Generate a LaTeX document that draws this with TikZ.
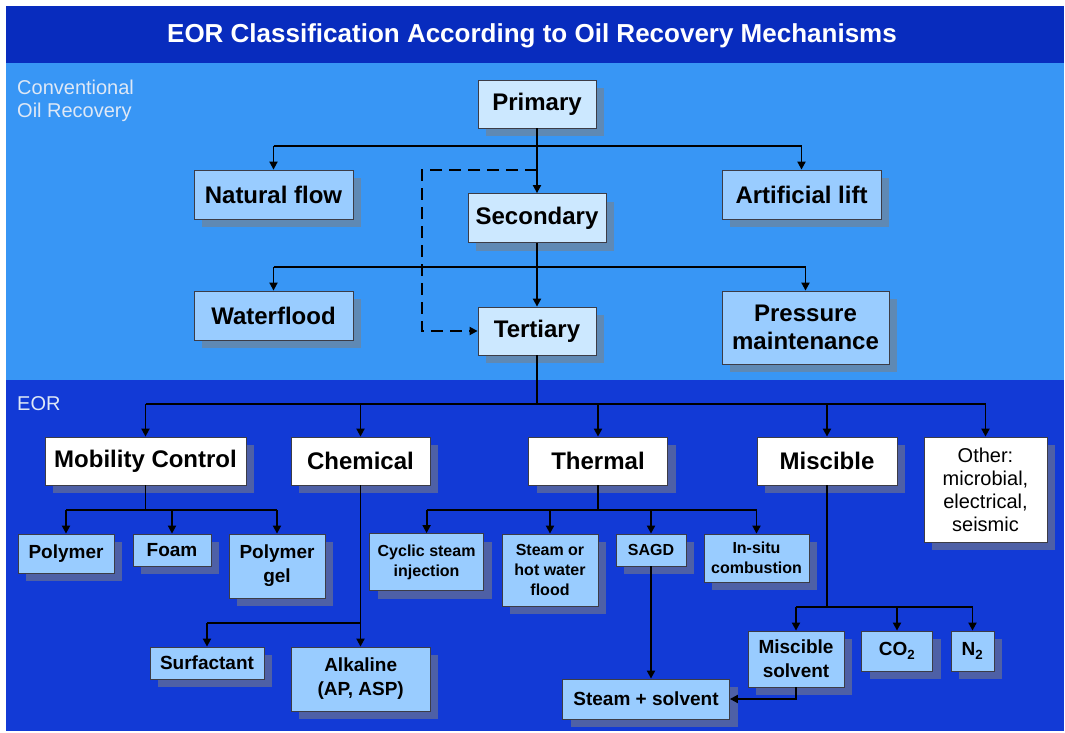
\documentclass[tikz,border=0pt]{standalone}
\usepackage{fontspec}
\setmainfont{Liberation Sans}
\usetikzlibrary{arrows.meta,shadows}
\definecolor{titlebar}{RGB}{8,44,190}
\definecolor{convbg}{RGB}{56,150,245}
\definecolor{eorbg}{RGB}{18,58,214}
\definecolor{palest}{RGB}{204,232,255}
\definecolor{pale}{RGB}{153,204,255}
\definecolor{boxline}{RGB}{60,60,70}
\definecolor{lbl}{RGB}{222,232,246}
\begin{document}
\begin{tikzpicture}[x=1pt,y=-1pt,
	box/.style={draw=boxline,line width=.8pt,inner sep=1pt,align=center,text=black,
		drop shadow={shadow xshift=8pt,shadow yshift=-8pt,fill=gray,opacity=.55}},
	big/.style={font=\bfseries\fontsize{24}{28}\selectfont},
	topbox/.style={box,big,fill=palest},
	convbox/.style={box,big,fill=pale},
	catbox/.style={box,big,fill=white},
	subbox/.style={box,fill=pale,font=\bfseries\fontsize{19}{24}\selectfont},
	thbox/.style={box,fill=pale,font=\bfseries\fontsize{16}{20}\selectfont},
	wh/.style 2 args={minimum width=#1pt,minimum height=#2pt},
	line/.style={line width=1.8pt},
	arr/.style={line,-{Triangle[length=8pt,width=8pt]}}]
	\useasboundingbox (0,0) rectangle (1065,733);
	% background bands
	\fill[white] (0,0) rectangle (1065,733);
	\fill[titlebar] (6,6) rectangle (1064,63);
	\fill[convbg] (6,63) rectangle (1064,380);
	\fill[eorbg] (6,380) rectangle (1064,731);
	\node[text=white,font=\bfseries\fontsize{26}{30}\selectfont] (title) at (532,36)
		{EOR Classification According to Oil Recovery Mechanisms};
	\node[anchor=north west,inner sep=0,align=left,text=lbl,font=\fontsize{20}{23}\selectfont]
		(convlbl) at (17,80) {Conventional\\Oil Recovery};
	\node[anchor=north west,inner sep=0,text=lbl,font=\fontsize{20}{23}\selectfont]
		(eorlbl) at (17,396) {EOR};
	% bus levels
	\path
	(0,146) coordinate (bus1)
	(0,267) coordinate (bus2)
	(422,170) coordinate (dsh)
	(0,404) coordinate (bus3)
	(0,510) coordinate (bus4)
	(0,623) coordinate (bus5)
	(0,607) coordinate (bus6);
	% conventional recovery
	\node[topbox,wh={118}{48}] (prim) at (537,104) {Primary};
	\node[topbox,wh={138}{49}] (sec) at (537,218) {Secondary};
	\node[topbox,wh={118}{48}] (tert) at (537,331) {Tertiary};
	\node[convbox,wh={159}{49}] (nat) at (273.5,194.5) {Natural flow};
	\node[convbox,wh={159}{49}] (art) at (801.5,194.5) {Artificial lift};
	\node[convbox,wh={159}{49}] (wat) at (273.5,315.5) {Waterflood};
	\node[convbox,wh={167}{73}] (press) at (805.5,327.5) {Pressure\\maintenance};
	% EOR categories
	\node[catbox,wh={201}{48}] (mob) at (145.5,461) {Mobility Control};
	\node[catbox,wh={139}{48}] (chem) at (360.5,461) {Chemical};
	\node[catbox,wh={139}{48}] (therm) at (598,461) {Thermal};
	\node[catbox,wh={140}{48}] (misc) at (827,461) {Miscible};
	\node[box,fill=white,wh={123}{105},font=\fontsize{20}{23}\selectfont] (oth) at (985.5,489.5)
		{Other:\\microbial,\\electrical,\\seismic};
	% EOR methods
	\node[subbox,wh={96}{39}] (poly) at (66,553.5) {Polymer};
	\node[subbox,wh={78}{32}] (foam) at (172,550) {Foam};
	\node[subbox,wh={96}{64}] (pgel) at (277,566) {Polymer\\gel};
	\node[subbox,wh={114}{32}] (surf) at (207,663) {Surfactant};
	\node[subbox,wh={139}{64}] (alk) at (360.7,679) {Alkaline\\(AP, ASP)};
	\node[thbox,wh={114}{57}] (cyc) at (426.6,562) {Cyclic steam\\injection};
	\node[thbox,wh={96}{72}] (shw) at (550,570) {Steam or\\hot water\\flood};
	\node[thbox,wh={70}{32}] (sagd) at (651,550) {SAGD};
	\node[thbox,wh={105}{48}] (insitu) at (756.5,558) {In-situ\\combustion};
	\node[subbox,wh={167}{40}] (stsol) at (646,699) {Steam + solvent};
	\node[subbox,wh={96}{56}] (msol) at (796,659) {Miscible\\solvent};
	\node[subbox,wh={71}{40}] (co2) at (897,651) {CO\textsubscript{2}};
	\node[subbox,wh={43}{40}] (n2) at (972.5,651) {N\textsubscript{2}};
	% connectors, conventional part
	\draw[arr] (prim) -- (sec);
	\draw[line] (nat.north |- bus1) -- (art.north |- bus1);
	\foreach \n in {nat,art}
	\draw[arr] (\n.north |- bus1) -- (\n.north);
	\draw[arr] (sec) -- (tert);
	\draw[line] (wat.north |- bus2) -- (press.north |- bus2);
	\foreach \n in {wat,press}
	\draw[arr] (\n.north |- bus2) -- (\n.north);
	\draw[arr,dash pattern=on 12pt off 7pt] (prim.south |- dsh) -- (dsh) |- (tert.west);
	% connectors, EOR part
	\draw[line] (tert) -- (tert |- bus3);
	\draw[line] (mob.north |- bus3) -- (oth.north |- bus3);
	\foreach \n in {mob,chem,therm,misc,oth}
	\draw[arr] (\n.north |- bus3) -- (\n.north);
	\draw[line] (mob) -- (mob |- bus4);
	\draw[line] (poly.north |- bus4) -- (pgel.north |- bus4);
	\foreach \n in {poly,foam,pgel}
	\draw[arr] (\n.north |- bus4) -- (\n.north);
	\draw[arr] (chem) -- (chem |- alk.north);
	\draw[line] (surf.north |- bus5) -- (chem |- bus5);
	\draw[arr] (surf.north |- bus5) -- (surf.north);
	\draw[line] (therm) -- (therm |- bus4);
	\draw[line] (cyc.north |- bus4) -- (insitu.north |- bus4);
	\foreach \n in {cyc,shw,sagd,insitu}
	\draw[arr] (\n.north |- bus4) -- (\n.north);
	\draw[arr] (sagd) -- (sagd |- stsol.north);
	\draw[line] (misc) -- (misc |- bus6);
	\draw[line] (msol.north |- bus6) -- (n2.north |- bus6);
	\foreach \n in {msol,co2,n2}
	\draw[arr] (\n.north |- bus6) -- (\n.north);
	\draw[arr] (msol) |- (stsol.east);
\end{tikzpicture}
\end{document}
